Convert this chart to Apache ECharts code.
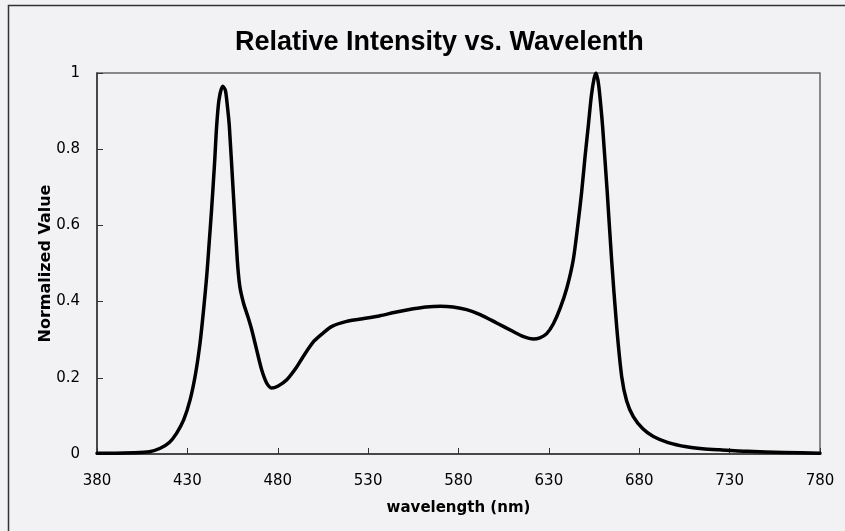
<!DOCTYPE html>
<html>
<head>
<meta charset="utf-8">
<script src="https://cdn.jsdelivr.net/npm/echarts@6/dist/echarts.min.js"></script>
<style>
html,body{margin:0;padding:0;background:#f2f2f4;}
#c{width:845px;height:531px;}
</style>
</head>
<body>
<div id="c"></div>
<script>
// wavelength (nm)
const wavelengths = [380,390,400,409,415,420,424,428,431.5,434.5,437,439,440.7,442,443.4,445,446.2,447.5,449.5,451,452.2,453.2,455.4,457.6,459,461,463.5,465.6,468,471.1,474,476.6,480,485,490,494.1,500,505.2,510,518.1,527,536.6,545,555,562,570,577,584.5,592,601.1,610,616,621.4,625,628.8,632.5,636.2,639.9,643.5,646,648.1,650,651.8,653.5,655,656.1,657.5,659,659.7,662.3,664.7,667.5,670.3,673,676.7,682,687.8,696,706.2,715,724.7,740,760,780];
// normalized intensity
const intensities = [0.002,0.002,0.003,0.006,0.015,0.03,0.054,0.09,0.142,0.21,0.291,0.38,0.467,0.55,0.642,0.76,0.861,0.93,0.965,0.955,0.91,0.861,0.686,0.51,0.44,0.397,0.36,0.326,0.28,0.221,0.185,0.173,0.178,0.195,0.225,0.256,0.296,0.318,0.335,0.348,0.355,0.363,0.372,0.381,0.386,0.388,0.386,0.379,0.366,0.344,0.322,0.308,0.302,0.305,0.316,0.342,0.382,0.435,0.51,0.6,0.686,0.78,0.861,0.94,0.985,1.0,0.97,0.9,0.861,0.686,0.51,0.335,0.203,0.14,0.098,0.066,0.046,0.03,0.019,0.014,0.011,0.007,0.004,0.002];
const xTicks = [380,430,480,530,580,630,680,730,780];
const yTicks = [0,0.2,0.4,0.6,0.8,1];

const data = wavelengths.map((w,i)=>[w,intensities[i]]);
const chart = echarts.init(document.getElementById('c'), null, {renderer:'canvas'});
chart.setOption({
  backgroundColor:'#f2f2f4',
  animation:false,
  title:{
    text:'Relative Intensity vs. Wavelenth',
    left:230, top:24,
    textStyle:{fontFamily:'Liberation Sans, Arial, sans-serif',fontWeight:'bold',fontSize:27,color:'#000'}
  },
  graphic:[{
    type:'rect', shape:{x:8.5,y:5.5,width:900,height:600},
    style:{fill:null,stroke:'#333',lineWidth:1.5}, silent:true, z:-1
  }],
  grid:{left:97,right:25,top:73,bottom:77,show:true,borderColor:'#666',borderWidth:1.5,backgroundColor:'transparent'},
  xAxis:{
    type:'value', min:380, max:780, interval:50,
    name:'wavelength (nm)', nameLocation:'middle', nameGap:47, nameMoveOverlap:false,
    nameTextStyle:{fontFamily:'DejaVu Sans, Verdana, sans-serif',fontWeight:'bold',fontSize:15,color:'#000'},
    axisLine:{show:true,onZero:false,lineStyle:{color:'#333',width:1.5}},
    axisTick:{show:true,inside:true,length:6,lineStyle:{color:'#333'}},
    axisLabel:{margin:20,fontFamily:'DejaVu Sans, Verdana, sans-serif',fontSize:15,color:'#000',
      customValues:xTicks},
    splitLine:{show:false}
  },
  yAxis:{
    type:'value', min:0, max:1, interval:0.2,
    name:'Normalized Value', nameLocation:'middle', nameGap:43, nameMoveOverlap:false,
    nameTextStyle:{fontFamily:'DejaVu Sans, Verdana, sans-serif',fontWeight:'bold',fontSize:16,color:'#000'},
    axisLine:{show:true,lineStyle:{color:'#333',width:1.5}},
    axisTick:{show:true,inside:true,length:6,lineStyle:{color:'#333'}},
    axisLabel:{margin:17,fontFamily:'DejaVu Sans, Verdana, sans-serif',fontSize:15,color:'#000',
      formatter:function(v){return String(Math.round(v*10)/10);}},
    splitLine:{show:false}
  },
  series:[{
    type:'line', data:data, smooth:0.25, showSymbol:false,
    lineStyle:{color:'#000',width:3.5,join:'round',cap:'round'}, clip:true
  }]
});
</script>
</body>
</html>
